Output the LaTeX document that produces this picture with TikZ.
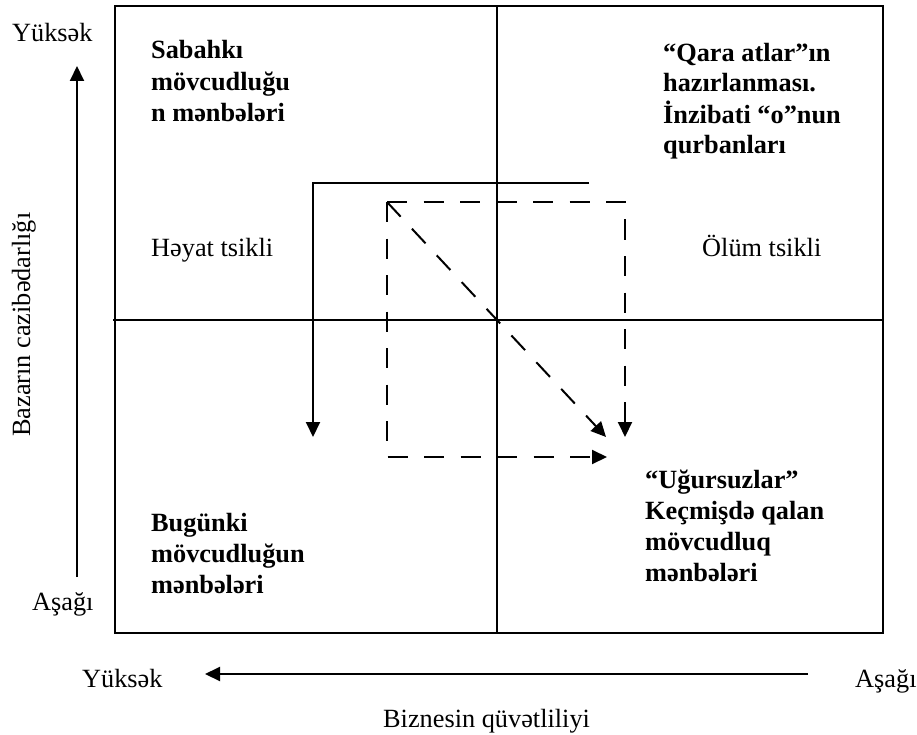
\documentclass[tikz,border=0pt]{standalone}
\usepackage{fontspec}
\setmainfont{Liberation Serif}
\usetikzlibrary{arrows.meta}
% stacked lines, aligned on the baseline of the first line
\newcommand{\stackt}[1]{\begin{tabular}[t]{@{}l@{}}#1\end{tabular}}
\begin{document}
\begin{tikzpicture}[x=1pt,y=-1pt,
  frame/.style={line width=2pt},
  flow/.style={line width=2pt,-{Triangle[length=15pt,width=14pt]}},
  dflow/.style={flow,dash pattern=on 20pt off 16.5pt},
  lbl/.style={inner sep=0pt,anchor=base west,font=\fontsize{26.3}{30}\selectfont},
  blbl/.style={inner sep=0pt,anchor=base west,font=\fontsize{26.3}{#1}\selectfont\bfseries},
  blbl/.default=31
]
\useasboundingbox (0,0) rectangle (917,735);

% matrix frame and quadrant lines
\coordinate (nw) at (115,6);
\coordinate (se) at (883,633);
\coordinate (vt) at (497,6);
\coordinate (vb) at (497,633);
\coordinate (hl) at (113,320);
\coordinate (hr) at (883,320);
\draw[frame] (nw) rectangle (se);
\draw[frame] (vt) -- (vb);
\draw[frame] (hl) -- (hr);

% quadrant captions
\node[blbl=31.3] (tl) at (151,59) {\stackt{Sabahkı\\mövcudluğu\\n mənbələri}};
\node[blbl=29.8] (tr) at (663,62) {\stackt{“Qara atlar”ın\\hazırlanması.\\İnzibati “o”nun\\qurbanları}};
\node[blbl=31] (bl) at (151,531) {\stackt{Bugünki\\mövcudluğun\\mənbələri}};
\node[blbl=31.2] (br) at (645,488) {\stackt{“Uğursuzlar”\\Keçmişdə qalan\\mövcudluq\\mənbələri}};
\node[lbl] (life) at (151,256) {Həyat tsikli};
\node[lbl] (death) at (702,256) {Ölüm tsikli};

% axes
\node[lbl] (yhigh) at (12,42) {Yüksək};
\node[lbl] (ylow) at (32,610) {Aşağı};
\node[lbl,rotate=90] (ytitle) at (30,437) {Bazarın cazibədarlığı};
\node[lbl] (xhigh) at (82,687) {Yüksək};
\node[lbl] (xlow) at (855,687) {Aşağı};
\node[lbl] (xtitle) at (383,727) {Biznesin qüvətliliyi};
\coordinate (ya0) at (77,577);
\coordinate (ya1) at (77,66);
\coordinate (xa0) at (808,674);
\coordinate (xa1) at (205,674);
\draw[flow] (ya0) -- (ya1);
\draw[flow] (xa0) -- (xa1);

% life-cycle path
\coordinate (l0) at (589,183);
\coordinate (l1) at (313,183);
\coordinate (l2) at (313,437);
\draw[flow] (l0) -- (l1) -- (l2);

% dashed transitions
\coordinate (s) at (387,202);
\coordinate (d1) at (387,457);
\coordinate (d2) at (607,457);
\coordinate (r1) at (625,202);
\coordinate (r2) at (625,437);
\coordinate (g) at (606,437);
\draw[dflow] (s) -- (d1) -- (d2);
\draw[dflow] (s) -- (r1) -- (r2);
\draw[dflow] (s) -- (g);
\end{tikzpicture}
\end{document}
